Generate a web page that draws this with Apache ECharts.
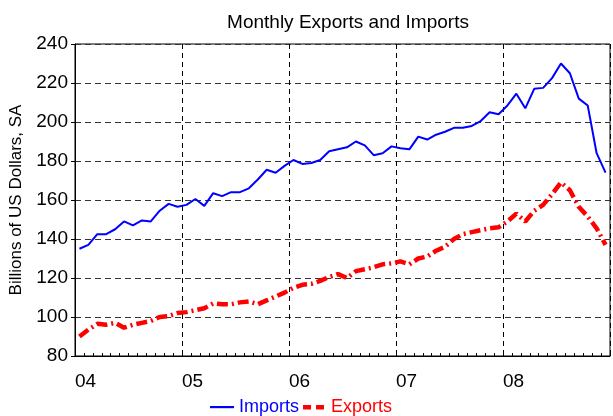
<!DOCTYPE html>
<html>
<head>
<meta charset="utf-8">
<script src="https://cdn.jsdelivr.net/npm/echarts@6/dist/echarts.min.js"></script>
<style>
  html, body { margin: 0; padding: 0; background: #fff; }
  #chart { width: 613px; height: 416px; }
</style>
</head>
<body>
<div id="chart"></div>
<script>
// monthly data, Jan 2004 .. Dec 2008
var yearLabels = ['04', '05', '06', '07', '08'];
var imports = [
  135, 137, 142.5, 142.5, 145, 149, 147, 149.5, 149, 154.5, 158, 156.5,
  157.5, 160.5, 157, 163.5, 162, 164, 164, 166, 170.5, 175.5, 174, 177.5,
  180.5, 178.5, 179, 180.5, 185, 186, 187, 190, 188, 183, 184, 187.5,
  186.5, 186, 192.5, 191, 193.5, 195, 197, 197, 198, 200.5, 205, 204,
  208.5, 214.5, 207, 217, 217.5, 222.5, 230, 225, 212, 208.5, 184, 174
];
var exports = [
  90, 93.5, 96.5, 96, 97, 94.5, 96, 97, 98, 100, 100.5, 102,
  102.5, 103.5, 104.5, 107, 106.5, 106.5, 107.5, 108, 106.5, 108.5, 110.5, 112.5,
  115, 116.5, 117, 118.5, 120.5, 122, 120, 123.5, 124.5, 125.5, 127, 127.5,
  128.5, 127, 130, 131, 134, 136, 140, 142.5, 143.5, 144.5, 145.5, 146,
  149, 153, 149, 154.5, 157.5, 163, 169, 165, 156.5, 151.5, 145.5, 137
];

// months on a value axis, points sit in the middle of each month
function toPoints(arr) {
  return arr.map(function (v, i) { return [i + 0.5, v]; });
}

var font = 'Liberation Sans, Arial, sans-serif';
var chart = echarts.init(document.getElementById('chart'));

// legend icons: the first two moves only fix the box size
var solidIcon = 'path://M0,0M24,12M0,5h24v2.2h-24z';
var dashIcon = 'path://M0,0M24,12M1,4h8v4.5h-8zM14,4h8v4.5h-8z';

var option = {
  animation: false,
  title: {
    text: 'Monthly Exports and Imports',
    left: 343,
    top: 8,
    textAlign: 'center',
    textStyle: { fontFamily: font, fontSize: 19, fontWeight: 'normal', color: '#000' }
  },
  legend: {
    left: 205,
    top: 393,
    itemWidth: 24,
    itemHeight: 12,
    itemGap: 3,
    textStyle: { fontFamily: font, fontSize: 18 },
    data: [
      { name: 'Imports', icon: solidIcon, textStyle: { color: '#0000ff' } },
      { name: 'Exports', icon: dashIcon, textStyle: { color: '#ff0000' } }
    ]
  },
  grid: {
    left: 75, right: 2, top: 44, bottom: 60,
    show: true, borderColor: '#000', borderWidth: 1
  },
  xAxis: {
    type: 'value',
    min: 0, max: 60, interval: 12,
    axisLine: { lineStyle: { color: '#000' } },
    axisTick: { inside: true, length: 6, lineStyle: { color: '#000' } },
    minorTick: { show: true, splitNumber: 12, length: 3, lineStyle: { color: '#000' } },
    splitLine: { show: true, lineStyle: { color: '#000', type: [5, 4] } },
    axisLabel: {
      align: 'left',
      margin: 16,
      fontFamily: font, fontSize: 19, color: '#000',
      formatter: function (v) { return yearLabels[v / 12] || ''; }
    }
  },
  yAxis: {
    type: 'value',
    min: 80, max: 240, interval: 20,
    name: 'Billions of US Dollars, SA',
    nameLocation: 'middle',
    nameGap: 50,
    nameTextStyle: { fontFamily: font, fontSize: 17, color: '#000' },
    axisLine: { show: true, lineStyle: { color: '#000' } },
    axisTick: { show: true, length: 4, lineStyle: { color: '#000' } },
    splitLine: { show: true, lineStyle: { color: '#333', type: [6, 4] } },
    axisLabel: { margin: 7, fontFamily: font, fontSize: 19, color: '#000' }
  },
  series: [
    {
      name: 'Imports',
      type: 'line',
      symbol: 'none',
      data: toPoints(imports),
      itemStyle: { color: '#0000ff' },
      lineStyle: { color: '#0000ff', width: 2 }
    },
    {
      name: 'Exports',
      type: 'line',
      symbol: 'none',
      data: toPoints(exports),
      itemStyle: { color: '#ff0000' },
      lineStyle: { color: '#ff0000', width: 4.5, type: [11, 4, 2, 4] }
    }
  ]
};
chart.setOption(option);
</script>
</body>
</html>
